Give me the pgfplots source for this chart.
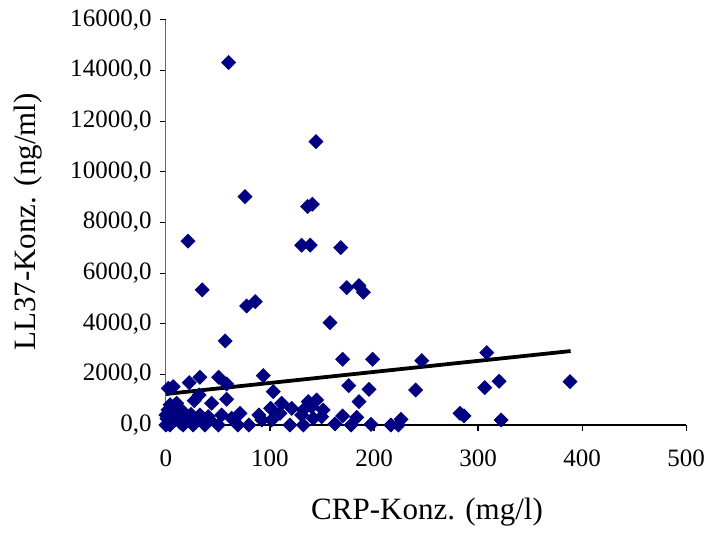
\documentclass[border=0pt]{standalone}
\usepackage{pgfplots}
\pgfplotsset{compat=1.18}
\usepackage{fontspec}
\setmainfont{Liberation Serif}
\definecolor{navyx}{RGB}{0,0,128}
\begin{document}
\begin{tikzpicture}
\begin{axis}[
  scale only axis,
  width=260pt, height=202.5pt,
  xmin=0, xmax=500, ymin=0, ymax=16000,
  axis x line=bottom, axis y line=left,
  axis line style={-, black, line width=0.55pt},
  y axis line style={gray!80!black},
  xtick={0,100,...,500},
  ytick={0,2000,...,16000},
  tick align=outside,
  major tick length=3pt,
  tick style={black, line width=0.55pt},
  clip=false,
  /pgf/number format/assume math mode=true,
  scaled y ticks=false,
  yticklabel={\pgfmathprintnumber[fixed, fixed zerofill, precision=1, use comma, 1000 sep={}]{\tick}},
  xticklabel={\pgfmathprintnumber[fixed, precision=0, 1000 sep={}]{\tick}},
  ticklabel style={font=\fontsize{12.5}{14}\selectfont},
  yticklabel style={anchor=east, inner sep=0pt, xshift=-4pt},
  xticklabel style={anchor=north, inner sep=0pt, yshift=-9pt},
  xlabel={CRP-Konz. (mg/l)},
  ylabel={LL37-Konz. (ng/ml)},
  label style={font=\fontsize{15.5}{18}\selectfont},
  xlabel style={at={(axis description cs:0.502,-0.215)}, anchor=center},
  ylabel style={at={(axis description cs:-0.265,0.501)}, anchor=center, rotate=0},
]
\addplot[only marks, mark=square*, mark size=2.45pt, color=navyx,
  every mark/.append style={rotate=45}] coordinates {
(60.3,14314) (144.2,11193) (76.0,9020) (136.2,8625) (140.7,8720)
(21.2,7258) (130.5,7100) (138.7,7100) (168.0,7005) (34.9,5334)
(173.7,5425) (185.6,5504) (189.7,5243) (77.6,4702) (85.9,4872)
(157.7,4042) (57.0,3318) (169.9,2596) (198.7,2596) (245.9,2540)
(308.4,2857) (175.7,1553) (195.2,1410) (185.6,921) (240.1,1383)
(306.4,1474) (320.2,1727) (388.4,1711) (169.9,356) (183.4,304)
(162.5,40) (177.9,0) (197.1,28) (216.3,0) (223.4,0)
(226.0,225) (282.7,462) (286.5,356) (322.1,198) (93.6,1948)
(50.7,1885) (32.7,1885) (22.4,1671) (58.4,1620) (7.0,1513)
(2.2,1450) (32.0,1185) (103.2,1316) (27.2,960) (58.4,1015)
(43.9,857) (111.2,857) (136.8,921) (144.9,988) (100.7,660)
(120.9,660) (132.0,593) (140.1,723) (151.2,593) (10.3,857)
(5.5,723) (13.5,593) (16.6,525) (3.8,462) (0,395)
(71.2,462) (89.4,395) (53.6,395) (63.2,265) (32.7,395)
(40.7,328) (101.6,198) (109.6,462) (130.5,395) (141.6,265)
(149.7,328) (79.8,0) (119.2,0) (132.0,0) (3.8,0)
(16.6,0) (26.2,0) (37.5,0) (50.3,0) (8.7,198)
(19.2,198) (0,0) (27.9,198) (42.3,198) (69.2,0)
(92.3,198) (12,350) (6,150) (2,600) (24,420)
(1,250) (9,520) (14,80) (4,800) (11,650)
};
\addplot[black, line width=1.9pt] coordinates {(0,1225) (389,2920)};
\coordinate (bl) at (rel axis cs:-0.319,-0.257);
\coordinate (tr) at (rel axis cs:1.044,1.049);
\end{axis}
\path (bl) rectangle (tr);
\end{tikzpicture}
\end{document}
